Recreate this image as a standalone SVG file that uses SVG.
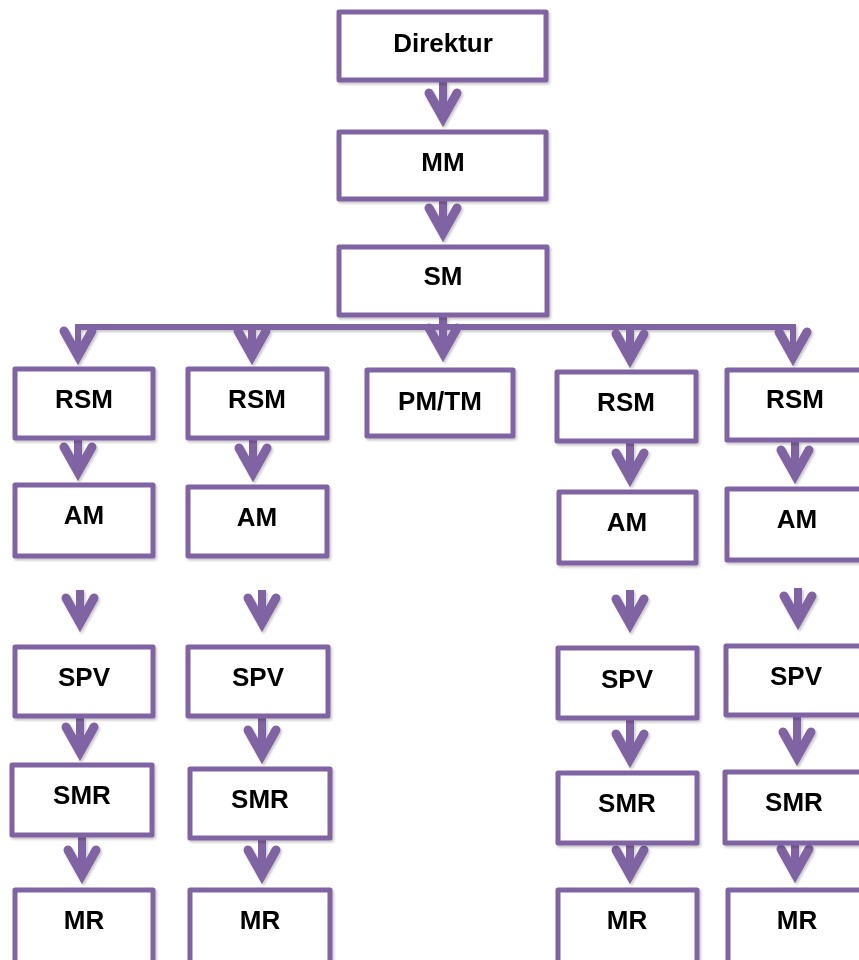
<svg xmlns="http://www.w3.org/2000/svg" width="859" height="960" viewBox="0 0 859 960">
  <defs>
    <filter id="shadow" x="-10%" y="-10%" width="130%" height="130%">
      <feDropShadow dx="1.5" dy="2" stdDeviation="1.2" flood-color="#000" flood-opacity="0.22"/>
    </filter>
    <!-- open chevron head, joint at origin, pointing down (mitred tip reaches ~10px below) -->
    <path id="head" d="M-14,-25 L0,0 L14,-25"/>
  </defs>
  <style>
    .box { fill: #fff; stroke: #8064A2; stroke-width: 5; stroke-linejoin: round; }
    .lbl { font-family: "Liberation Sans", Arial, sans-serif; font-weight: bold; font-size: 26px; fill: #000; text-anchor: middle; }
    .shaft { fill: none; stroke: #8064A2; stroke-width: 8; stroke-linecap: butt; }
    .bus { fill: none; stroke: #8064A2; stroke-width: 6; stroke-linejoin: miter; }
    .hd { fill: none; stroke: #8064A2; stroke-width: 9; stroke-linecap: round; stroke-linejoin: miter; stroke-miterlimit: 10; }
  </style>

  <rect width="859" height="960" fill="#fff"/>

  <g id="connectors" filter="url(#shadow)">
    <!-- top chain -->
    <line class="shaft" x1="443" y1="82" x2="443" y2="118"/>
    <use href="#head" class="hd" x="443" y="118"/>
    <line class="shaft" x1="443" y1="201" x2="443" y2="233"/>
    <use href="#head" class="hd" x="443" y="233"/>
    <!-- bus from SM -->
    <line class="shaft" x1="443" y1="317" x2="443" y2="353"/>
    <use href="#head" class="hd" x="443" y="353"/>
    <polyline class="bus" points="78,356 78,327 793,327 793,356"/>
    <line class="shaft" x1="252" y1="327" x2="252" y2="356"/>
    <line class="shaft" x1="630" y1="327" x2="630" y2="359"/>
    <use href="#head" class="hd" x="78" y="356"/>
    <use href="#head" class="hd" x="252" y="356"/>
    <use href="#head" class="hd" x="630" y="359"/>
    <use href="#head" class="hd" x="793" y="357"/>
    <!-- RSM to AM -->
    <line class="shaft" x1="78" y1="440" x2="78" y2="472"/>
    <use href="#head" class="hd" x="78" y="472"/>
    <line class="shaft" x1="253" y1="440" x2="253" y2="473"/>
    <use href="#head" class="hd" x="253" y="473"/>
    <line class="shaft" x1="630" y1="443" x2="630" y2="478"/>
    <use href="#head" class="hd" x="630" y="478"/>
    <line class="shaft" x1="795" y1="442" x2="795" y2="475"/>
    <use href="#head" class="hd" x="795" y="475"/>
    <!-- free arrows above SPV -->
    <line class="shaft" x1="80" y1="590" x2="80" y2="623"/>
    <use href="#head" class="hd" x="80" y="623"/>
    <line class="shaft" x1="262" y1="590" x2="262" y2="623"/>
    <use href="#head" class="hd" x="262" y="623"/>
    <line class="shaft" x1="630" y1="590" x2="630" y2="624"/>
    <use href="#head" class="hd" x="630" y="624"/>
    <line class="shaft" x1="798" y1="588" x2="798" y2="621"/>
    <use href="#head" class="hd" x="798" y="621"/>
    <!-- SPV to SMR -->
    <line class="shaft" x1="80" y1="718" x2="80" y2="752"/>
    <use href="#head" class="hd" x="80" y="752"/>
    <line class="shaft" x1="262" y1="718" x2="262" y2="755"/>
    <use href="#head" class="hd" x="262" y="755"/>
    <line class="shaft" x1="630" y1="720" x2="630" y2="759"/>
    <use href="#head" class="hd" x="630" y="759"/>
    <line class="shaft" x1="797" y1="717" x2="797" y2="757"/>
    <use href="#head" class="hd" x="797" y="757"/>
    <!-- SMR to MR -->
    <line class="shaft" x1="82" y1="837" x2="82" y2="875"/>
    <use href="#head" class="hd" x="82" y="875"/>
    <line class="shaft" x1="262" y1="840" x2="262" y2="875"/>
    <use href="#head" class="hd" x="262" y="875"/>
    <line class="shaft" x1="630" y1="845" x2="630" y2="875"/>
    <use href="#head" class="hd" x="630" y="875"/>
    <line class="shaft" x1="795" y1="845" x2="795" y2="874"/>
    <use href="#head" class="hd" x="795" y="874"/>
  </g>

  <g filter="url(#shadow)">
    <g id="direktur"><rect class="box" x="339" y="12" width="207" height="68"/><text class="lbl" x="443" y="52">Direktur</text></g>
    <g id="mm"><rect class="box" x="339" y="132" width="207" height="67"/><text class="lbl" x="443" y="171">MM</text></g>
    <g id="sm"><rect class="box" x="339" y="247" width="208" height="68"/><text class="lbl" x="443" y="285">SM</text></g>

    <g id="rsm1"><rect class="box" x="15" y="369" width="138" height="69"/><text class="lbl" x="84" y="408">RSM</text></g>
    <g id="rsm2"><rect class="box" x="188" y="369" width="139" height="69"/><text class="lbl" x="257" y="408">RSM</text></g>
    <g id="pmtm"><rect class="box" x="367" y="370" width="146" height="66"/><text class="lbl" x="440" y="410">PM/TM</text></g>
    <g id="rsm4"><rect class="box" x="557" y="372" width="139" height="69"/><text class="lbl" x="626" y="411">RSM</text></g>
    <g id="rsm5"><rect class="box" x="727" y="370" width="139" height="70"/><text class="lbl" x="795" y="408">RSM</text></g>

    <g id="am1"><rect class="box" x="15" y="485" width="138" height="71"/><text class="lbl" x="84" y="524">AM</text></g>
    <g id="am2"><rect class="box" x="188" y="487" width="139" height="69"/><text class="lbl" x="257" y="526">AM</text></g>
    <g id="am4"><rect class="box" x="559" y="492" width="137" height="71"/><text class="lbl" x="627" y="531">AM</text></g>
    <g id="am5"><rect class="box" x="727" y="489" width="139" height="71"/><text class="lbl" x="797" y="528">AM</text></g>

    <g id="spv1"><rect class="box" x="15" y="647" width="138" height="69"/><text class="lbl" x="84" y="686">SPV</text></g>
    <g id="spv2"><rect class="box" x="188" y="647" width="140" height="69"/><text class="lbl" x="258" y="686">SPV</text></g>
    <g id="spv4"><rect class="box" x="558" y="648" width="139" height="70"/><text class="lbl" x="627" y="688">SPV</text></g>
    <g id="spv5"><rect class="box" x="726" y="646" width="140" height="69"/><text class="lbl" x="796" y="685">SPV</text></g>

    <g id="smr1"><rect class="box" x="12" y="765" width="140" height="70"/><text class="lbl" x="82" y="804">SMR</text></g>
    <g id="smr2"><rect class="box" x="190" y="769" width="140" height="69"/><text class="lbl" x="260" y="808">SMR</text></g>
    <g id="smr4"><rect class="box" x="558" y="773" width="139" height="70"/><text class="lbl" x="627" y="812">SMR</text></g>
    <g id="smr5"><rect class="box" x="725" y="772" width="141" height="71"/><text class="lbl" x="794" y="811">SMR</text></g>

    <g id="mr1"><rect class="box" x="15" y="890" width="138" height="80"/><text class="lbl" x="84" y="929">MR</text></g>
    <g id="mr2"><rect class="box" x="190" y="890" width="140" height="80"/><text class="lbl" x="260" y="929">MR</text></g>
    <g id="mr4"><rect class="box" x="558" y="890" width="139" height="80"/><text class="lbl" x="627" y="929">MR</text></g>
    <g id="mr5"><rect class="box" x="728" y="890" width="138" height="80"/><text class="lbl" x="797" y="929">MR</text></g>
  </g>
</svg>
